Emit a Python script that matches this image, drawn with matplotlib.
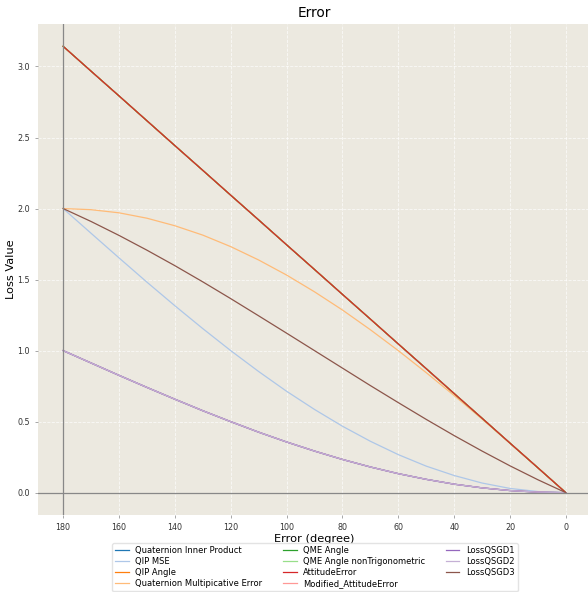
import matplotlib
matplotlib.use("Agg")
import matplotlib.pyplot as plt

# error angle in degrees
deg = [0, 10, 20, 30, 40, 50, 60, 70, 80, 90, 100, 110, 120, 130, 140, 150, 160, 170, 180]

qip = [0.000, 0.004, 0.015, 0.034, 0.060, 0.094, 0.134, 0.181, 0.234, 0.293,
       0.357, 0.426, 0.500, 0.577, 0.658, 0.741, 0.826, 0.913, 1.000]
qip_mse = [0.000, 0.008, 0.030, 0.068, 0.121, 0.187, 0.268, 0.362, 0.468, 0.586,
           0.714, 0.853, 1.000, 1.155, 1.316, 1.482, 1.653, 1.826, 2.000]
angle = [0.000, 0.175, 0.349, 0.524, 0.698, 0.873, 1.047, 1.222, 1.396, 1.571,
         1.745, 1.920, 2.094, 2.269, 2.443, 2.618, 2.793, 2.967, 3.142]
qme = [0.000, 0.174, 0.347, 0.518, 0.684, 0.845, 1.000, 1.147, 1.286, 1.414,
       1.532, 1.638, 1.732, 1.813, 1.879, 1.932, 1.970, 1.992, 2.000]
qsgd3 = [0.000, 0.091, 0.189, 0.293, 0.402, 0.516, 0.634, 0.754, 0.877, 1.000,
         1.123, 1.245, 1.366, 1.484, 1.598, 1.707, 1.811, 1.909, 2.000]

labels = ["Quaternion Inner Product", "QIP MSE", "QIP Angle",
          "Quaternion Multipicative Error", "QME Angle", "QME Angle nonTrigonometric",
          "AttitudeError", "Modified_AttitudeError", "LossQSGD1", "LossQSGD2", "LossQSGD3"]
series = [qip, qip_mse, angle, qme, angle, angle, angle, qip, qip, qip, qsgd3]
colors = plt.get_cmap("tab20").colors

fig = plt.figure(figsize=(5.88, 5.92), dpi=100)
ax = fig.add_axes([38 / 588, 77 / 592, 553 / 588, 491 / 592])
ax.set_facecolor("#ece9e0")
for s in ax.spines.values():
    s.set_visible(False)
ax.grid(True, color="white", linestyle="--", linewidth=0.6, alpha=0.75)
ax.set_axisbelow(True)

for i, (lab, ys) in enumerate(zip(labels, series)):
    ax.plot(deg, ys, color=colors[i], linewidth=0.9, label=lab)

ax.axhline(0, color="#888888", linewidth=0.9)
ax.axvline(180, color="#888888", linewidth=0.9)

ax.set_xlim(189, -9)
ax.set_ylim(-0.157, 3.299)
ax.set_xticks([180, 160, 140, 120, 100, 80, 60, 40, 20, 0])
ax.set_yticks([0.0, 0.5, 1.0, 1.5, 2.0, 2.5, 3.0])
ax.tick_params(labelsize=5.8, colors="#333333", length=2.5, width=0.6)
ax.tick_params(color="#999999")

ax.set_title("Error", fontsize=9.8, pad=5)
ax.set_xlabel("Error (degree)", fontsize=8.2, labelpad=1)
ax.set_ylabel("Loss Value", fontsize=8.2, labelpad=0.5)

fig.legend(loc="upper center", bbox_to_anchor=(315 / 588, 53 / 592), ncol=3,
           fontsize=6.0, frameon=True, edgecolor="#dddddd", fancybox=True,
           handlelength=1.6, columnspacing=2.5, borderpad=0.35, labelspacing=0.25)

fig.savefig("out.png", dpi=100, facecolor="white")
